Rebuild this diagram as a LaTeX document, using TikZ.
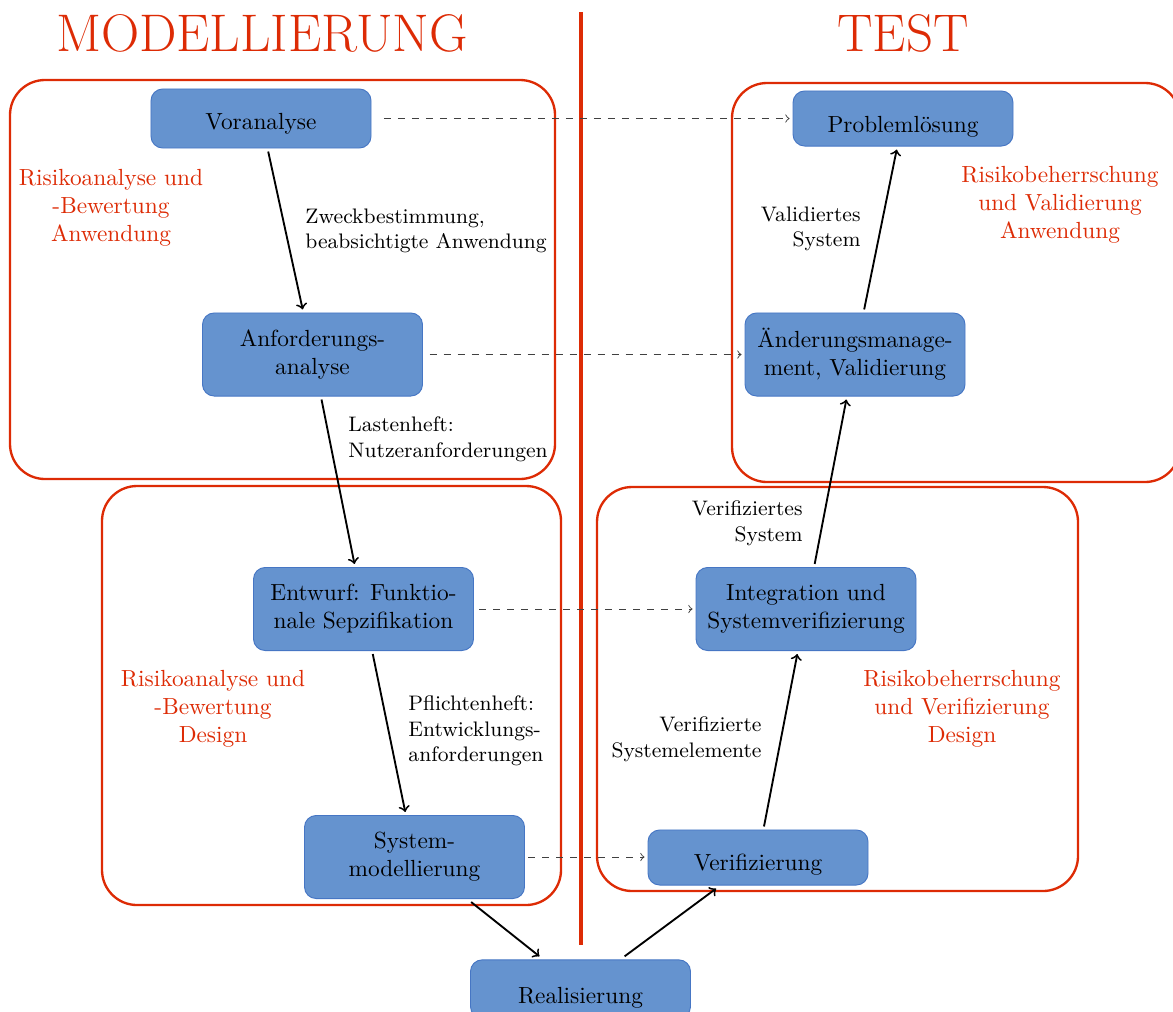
\documentclass[tikz,border=0pt]{standalone}
\definecolor{frame}{RGB}{221,43,5}
\definecolor{boxfill}{RGB}{101,147,207}
\definecolor{boxline}{RGB}{70,118,196}
\begin{document}
\begin{tikzpicture}[x=0.4286pt,y=-0.4286pt,
  stage/.style={draw=boxline, fill=boxfill, rounded corners=5pt, minimum width=94.3pt,
    align=center, inner sep=2pt, outer sep=1.5pt, font=\fontsize{10}{12}\selectfont},
  single/.style={stage, minimum height=23.6pt, text height=11pt, text depth=0pt},
  double/.style={stage, minimum height=35.6pt},
  group/.style={draw=frame, line width=1pt, rounded corners=15pt},
  flow/.style={->, line width=0.8pt},
  link/.style={->, dashed, line width=0.4pt, black!75},
  note/.style={font=\fontsize{9}{11}\selectfont, inner sep=0pt},
  risk/.style={text=frame, align=center, font=\fontsize{10}{12}\selectfont, inner sep=0pt},
  heading/.style={text=frame, font=\fontsize{22.7}{27}\selectfont, inner sep=0pt}]

\useasboundingbox (0,0) rectangle (1173,1011);
\clip (0,0) rectangle (1173,1011);

% headings and the dividing line
\node[heading] (hmod) at (262,33) {MODELLIERUNG};
\node[heading] (htest) at (903,33) {TEST};
\draw[frame, line width=1.4pt] (581,12) -- (581,945);

% phase frames
\draw[group] (10,80) rectangle (555,479);
\draw[group] (732,83) rectangle (1180,482);
\draw[group] (102,486) rectangle (561,905);
\draw[group] (597,487) rectangle (1078,891);

% stages
\node[single, minimum height=25.3pt, text height=9pt] (vor) at (261,118.5) {Voranalyse};
\node[double] (anf) at (312.5,354.5) {Anforderungs-\\analyse};
\node[double] (ent) at (363.5,609) {Entwurf: Funktio-\\nale Sepzifikation};
\node[double] (sys) at (414.5,857) {System-\\modellierung};
\node[single, minimum height=25pt, text height=12pt] (real) at (580.5,989) {Realisierung};
\node[single] (ver) at (758,857.5) {Verifizierung};
\node[double] (int) at (806,609) {Integration und\\Systemverifizierung};
\node[double] (aend) at (855,354.5) {Änderungsmanage-\\ment, Validierung};
\node[single, text height=12.4pt] (prob) at (903,118.5) {Problemlösung};

% main flow
\draw[flow] (vor) -- (anf);
\draw[flow] (anf) -- (ent);
\draw[flow] (ent) -- (sys);
\draw[flow] (sys) -- (real);
\draw[flow] (real) -- (ver);
\draw[flow] (ver) -- (int);
\draw[flow] (int) -- (aend);
\draw[flow] (aend) -- (prob);

% cross links between the two sides
\draw[link, shorten <=4pt] (vor.east) -- (vor.east -| prob.west);
\draw[link, shorten <=1.5pt] (anf.east) -- (anf.east -| aend.west);
\draw[link, shorten <=1pt] (ent.east) -- (ent.east -| int.west);
\draw[link] (sys.east) -- (sys.east -| ver.west);

% flow annotations
\node[note, anchor=west, align=left] (n1) at (305,231) {Zweckbestimmung,\\beabsichtigte Anwendung};
\node[note, anchor=west, align=left] (n2) at (348,439) {Lastenheft:\\Nutzeranforderungen};
\node[note, anchor=west, align=left] (n3) at (408,731) {Pflichtenheft:\\Entwicklungs-\\anforderungen};
\node[note, anchor=east, align=right] (n4) at (861,229) {Validiertes\\System};
\node[note, anchor=east, align=right] (n5) at (803,523) {Verifiziertes\\System};
\node[note, anchor=east, align=right] (n6) at (762,739) {Verifizierte\\Systemelemente};

% risk activities
\node[risk] (r1) at (111,208) {Risikoanalyse und\\-Bewertung\\Anwendung};
\node[risk] (r2) at (1060,205) {Risikobeherrschung\\und Validierung\\Anwendung};
\node[risk] (r3) at (213,709) {Risikoanalyse und\\-Bewertung\\Design};
\node[risk] (r4) at (962,709) {Risikobeherrschung\\und Verifizierung\\Design};
\end{tikzpicture}
\end{document}
